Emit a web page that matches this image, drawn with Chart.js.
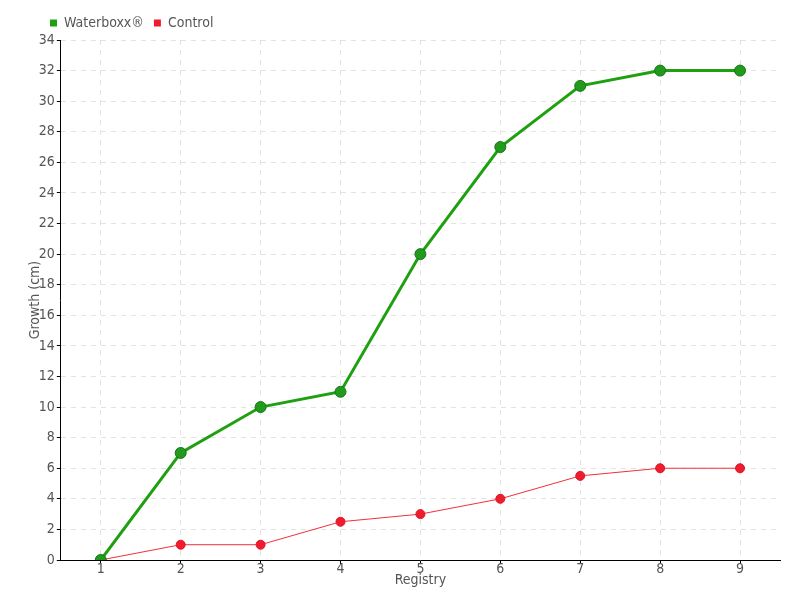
<!DOCTYPE html>
<html>
<head>
<meta charset="utf-8">
<script src="https://cdn.jsdelivr.net/npm/chart.js@4/dist/chart.umd.min.js"></script>
<style>
  html, body { margin: 0; padding: 0; background: #fff; }
  #wrap { width: 800px; height: 600px; }
</style>
</head>
<body>
<div id="wrap"><canvas id="growthChart" width="800" height="600"></canvas></div>
<script>
const registry = ['1', '2', '3', '4', '5', '6', '7', '8', '9'];
const waterboxx = [0, 7, 10, 11, 20, 27, 31, 32, 32];
const control = [0, 1, 1, 2.5, 3, 4, 5.5, 6, 6];

const fontFamily = "'DejaVu Sans Condensed', 'Liberation Sans Narrow', sans-serif";
const textColor = '#555';

// nudge the legend so it starts just left of the y axis, like the original
const legendShift = {
    id: 'legendShift',
    afterLayout(chart) {
        const lg = chart.legend;
        if (!lg) return;
        const dx = 13;
        lg.left += dx;
        lg.right += dx;
    }
};

function drawGrowthChart() {
    const ctx = document.getElementById('growthChart').getContext('2d');
    new Chart(ctx, {
        type: 'line',
        data: {
            labels: registry,
            datasets: [
                {
                    label: 'Waterboxx®',
                    data: waterboxx,
                    borderColor: '#1fa010',
                    backgroundColor: '#1fa010',
                    borderWidth: 3,
                    pointRadius: 5.5,
                    pointBackgroundColor: '#229a1c',
                    pointBorderColor: '#17751a',
                    pointBorderWidth: 1,
                    tension: 0
                },
                {
                    label: 'Control',
                    data: control,
                    borderColor: '#f0303c',
                    backgroundColor: '#ee1c2c',
                    borderWidth: 1,
                    pointRadius: 4.5,
                    pointBackgroundColor: '#ee1c2c',
                    pointBorderColor: '#e01426',
                    pointBorderWidth: 1,
                    tension: 0
                }
            ]
        },
        plugins: [legendShift],
        options: {
            responsive: false,
            animation: false,
            layout: { padding: { left: 27, right: 20, top: 6, bottom: 13 } },
            plugins: {
                tooltip: { enabled: false },
                legend: {
                    position: 'top',
                    align: 'start',
                    labels: {
                        boxWidth: 7,
                        boxHeight: 7,
                        padding: 10,
                        color: textColor,
                        font: { family: fontFamily, size: 14 },
                        generateLabels(chart) {
                            return Chart.defaults.plugins.legend.labels.generateLabels(chart)
                                .map(item => Object.assign(item, { lineWidth: 0 }));
                        }
                    }
                }
            },
            scales: {
                x: {
                    offset: true,
                    title: {
                        display: true,
                        text: 'Registry',
                        color: textColor,
                        padding: { top: -1, bottom: 0 },
                        font: { family: fontFamily, size: 14, lineHeight: 1 }
                    },
                    grid: {
                        color: '#e2e2e2',
                        tickColor: '#000',
                        tickLength: 4,
                        offset: false
                    },
                    border: { color: '#000', width: 1, dash: [5, 5] },
                    ticks: {
                        color: textColor,
                        padding: -2,
                        maxRotation: 0,
                        font: { family: fontFamily, size: 14, lineHeight: 1 }
                    }
                },
                y: {
                    min: 0,
                    max: 34,
                    title: {
                        display: true,
                        text: 'Growth (cm)',
                        color: textColor,
                        padding: { top: 0, bottom: -7 },
                        font: { family: fontFamily, size: 14 }
                    },
                    grid: {
                        color: '#e2e2e2',
                        tickColor: '#000',
                        tickLength: 4
                    },
                    border: { color: '#000', width: 1, dash: [5, 5] },
                    ticks: {
                        stepSize: 2,
                        color: textColor,
                        padding: 2,
                        font: { family: fontFamily, size: 14 }
                    }
                }
            }
        }
    });
}

drawGrowthChart();
</script>
</body>
</html>
